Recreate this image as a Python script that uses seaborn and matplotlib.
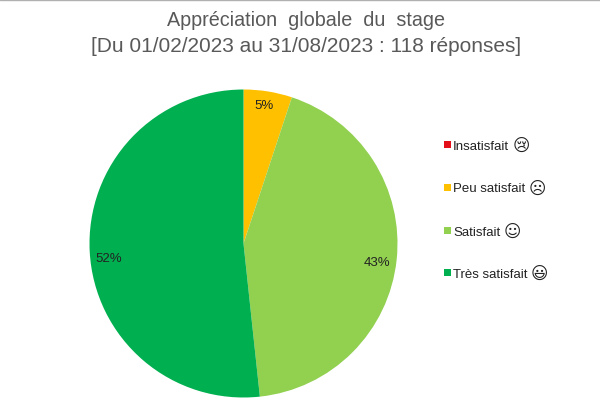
import matplotlib
import seaborn as sns
from matplotlib import pyplot as plt
from matplotlib.lines import Line2D

matplotlib.use("Agg")

categories = ["Insatisfait", "Peu satisfait", "Satisfait", "Très satisfait"]
smileys = ["\U0001F622", "\u2639", "\u263A", "\U0001F603"]
responses = [0, 6, 51, 61]
percent_labels = ["", "5%", "43%", "52%"]
colors = ["#e3101a", "#ffc000", "#92d050", "#00b050"]
title_lines = ["Appréciation  globale  du  stage", "[Du 01/02/2023 au 31/08/2023 : 118 réponses]"]

sns.set_theme(style="white")
plt.rcParams["font.family"] = ["Liberation Sans", "DejaVu Sans"]
palette = sns.color_palette(colors)

W, H = 600, 400
fig = plt.figure(figsize=(W / 100, H / 100), dpi=100, facecolor="white")

# pie box in pixels, centre (243.5, 243.5), radius 154
ax = fig.add_axes([89.5 / W, 1 - 397.5 / H, 308 / W, 308 / H])
ax.pie(responses, colors=palette, startangle=90, counterclock=False, radius=1.0,
       wedgeprops={"linewidth": 0})
ax.set_xlim(-1, 1)
ax.set_ylim(-1, 1)

# labels sit at the same spots as the reference
label_pos = {1: (0.133, 0.893), 2: (0.87, -0.125), 3: (-0.873, -0.1)}
for i, (x, y) in label_pos.items():
    ax.text(x, y, percent_labels[i], ha="center", va="center", fontsize=9.5, color="#222222")

fig.text(306 / W, 1 - 21 / H, title_lines[0], ha="center", va="center", fontsize=14.2, color="#595959")
fig.text(306 / W, 1 - 46.5 / H, title_lines[1], ha="center", va="center", fontsize=15, color="#595959")

# top border of the source slide
fig.add_artist(Line2D([0, 1], [0.999, 0.999], color="#b0b0b0", linewidth=1))

legend_y = [145, 188, 231, 273]
for name, face, color, y in zip(categories, smileys, palette, legend_y):
    fig.add_artist(plt.Rectangle((444 / W, 1 - (y + 2.5) / H), 6.5 / W, 6.5 / H, transform=fig.transFigure,
                                 facecolor=color, edgecolor="none"))
    label = fig.text(453 / W, 1 - (y + 1.5) / H, name, ha="left", va="center", fontsize=9.5, color="#222222")
    fig.canvas.draw()
    box = label.get_window_extent()
    fig.text((box.x1 + 3) / W, 1 - (y + 1) / H, face, ha="left", va="center", fontsize=12, color="#222222",
             family="DejaVu Sans")

fig.savefig("out.png", dpi=100)
plt.close(fig)
